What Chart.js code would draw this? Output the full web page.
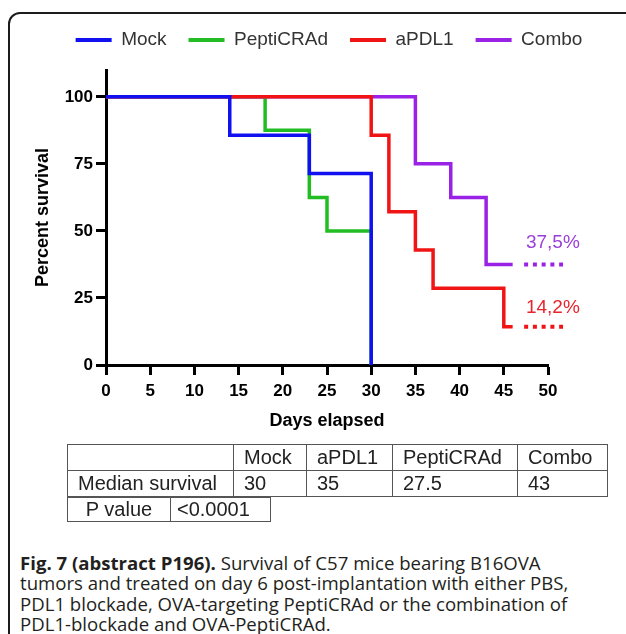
<!DOCTYPE html>
<html lang="en">
<head>
<meta charset="UTF-8">
<title>Survival of C57 mice</title>
<script src="https://cdn.jsdelivr.net/npm/chart.js@4.4.1/dist/chart.umd.min.js"></script>
<style>
  body { margin: 0; background: #fff; }
  #page { position: relative; width: 626px; height: 634px; overflow: hidden; background: #fff; }
  .frame { position: absolute; left: 8px; top: 12px; width: 660px; height: 700px;
           border: 2px solid #1c1c1c; border-radius: 12px; }
  #chartBox { position: absolute; left: 0; top: 0; width: 626px; height: 445px; }
  table.stats { position: absolute; border-collapse: collapse; table-layout: fixed;
                font-family: Arial, "Liberation Sans", sans-serif; font-size: 20px; color: #222; }
  table.stats td { border: 1.5px solid #555; padding: 0 0 0 10px; white-space: nowrap; }
  #median { left: 67px; top: 444px; }
  #median td { height: 25px; }
  #pval { left: 67px; top: 497px; }
  #pval td { height: 23px; }
  #pval td.c { text-align: center; padding: 0; }
  .caption { position: absolute; left: 20px; top: 553px; font-family: "Open Sans", sans-serif;
             font-size: 18.6px; line-height: 20.3px; color: #231f20; white-space: nowrap; }
</style>
</head>
<body>
<div id="page">
  <div class="frame"></div>
  <div id="chartBox"><canvas id="survival" width="626" height="445"></canvas></div>

  <table class="stats" id="median">
    <colgroup><col style="width:166px"><col style="width:73px"><col style="width:86px"><col style="width:125px"><col style="width:90px"></colgroup>
    <tr><td></td><td>Mock</td><td>aPDL1</td><td>PeptiCRAd</td><td>Combo</td></tr>
    <tr><td>Median survival</td><td>30</td><td>35</td><td>27.5</td><td>43</td></tr>
  </table>
  <table class="stats" id="pval">
    <colgroup><col style="width:103px"><col style="width:100px"></colgroup>
    <tr><td class="c">P value</td><td style="padding-left:6px">&lt;0.0001</td></tr>
  </table>

  <div class="caption"><b>Fig. 7 (abstract P196).</b> Survival of C57 mice bearing B16OVA<br>
    tumors and treated on day 6 post-implantation with either PBS,<br>
    PDL1 blockade, OVA-targeting PeptiCRAd or the combination of<br>
    PDL1-blockade and OVA-PeptiCRAd.</div>
</div>

<script>
// Kaplan-Meier steps (day, % surviving after the event)
const mockDays  = [0, 14, 23, 30];
const mockSurv  = [100, 85.7, 71.4, 0];
const peptiDays = [0, 18, 23, 25, 30];
const peptiSurv = [100, 87.5, 62.5, 50, 0];
const apdlDays  = [0, 30, 32, 35, 37, 45, 46];
const apdlSurv  = [100, 85.7, 57.1, 42.9, 28.6, 14.3, 14.3];
const comboDays = [0, 35, 39, 43, 46];
const comboSurv = [100, 75, 62.5, 37.5, 37.5];

// dotted continuation past the last follow-up
const tailDays   = [47.3, 51.7];
const tailCombo  = [37.5, 37.5];
const tailApdl   = [14.3, 14.3];

// end labels
const endLabels  = ['37,5%', '14,2%'];
const endLabelX  = [47.5, 47.5];
const endLabelY  = [45.5, 21.3];

const xTicks = [0, 5, 10, 15, 20, 25, 30, 35, 40, 45, 50];
const yTicks = [0, 25, 50, 75, 100];

const BLUE = '#1010f0', GREEN = '#22bd22', RED = '#f01414', PURPLE = '#9a22e6';
const axisFont = { family: 'Arial, "Liberation Sans", sans-serif', size: 17, weight: 'bold' };

function pts(xs, ys) { return xs.map((x, i) => ({ x: x, y: ys[i] })); }

const endLabelPlugin = {
  id: 'endLabels',
  afterDatasetsDraw(chart) {
    const ctx = chart.ctx, xs = chart.scales.x, ys = chart.scales.y;
    const cols = ['#9a3fd8', '#e8242c'];
    ctx.save();
    ctx.font = '19px Arial, "Liberation Sans", sans-serif';
    ctx.textAlign = 'left';
    ctx.textBaseline = 'middle';
    endLabels.forEach((t, i) => {
      ctx.fillStyle = cols[i];
      ctx.fillText(t, xs.getPixelForValue(endLabelX[i]), ys.getPixelForValue(endLabelY[i]));
    });
    ctx.restore();
  }
};

function curve(label, xs, ys, color, order) {
  return { label: label, data: pts(xs, ys), borderColor: color, backgroundColor: color,
           borderWidth: 3.5, stepped: 'before', pointRadius: 0, order: order };
}
function tail(ys, color) {
  return { label: 'tail', data: pts(tailDays, ys), borderColor: color, borderWidth: 4,
           borderDash: [4, 4.75], pointRadius: 0, clip: false, order: 5 };
}

new Chart(document.getElementById('survival'), {
  type: 'line',
  data: {
    datasets: [
      curve('Mock', mockDays, mockSurv, BLUE, 0),
      curve('PeptiCRAd', peptiDays, peptiSurv, GREEN, 3),
      curve('aPDL1', apdlDays, apdlSurv, RED, 1),
      curve('Combo', comboDays, comboSurv, PURPLE, 2),
      tail(tailCombo, PURPLE),
      tail(tailApdl, RED)
    ]
  },
  options: {
    responsive: false,
    animation: false,
    layout: { padding: { left: 32, right: 0, top: 8.5, bottom: 0 } },
    plugins: {
      tooltip: { enabled: false },
      // empty spacer between legend and plot
      title: { display: true, text: '', weight: 500, fullSize: false,
               padding: 0, font: { size: 8.75 } },
      legend: {
        position: 'top',
        labels: {
          boxWidth: 36,
          boxHeight: 4,
          padding: 22,
          color: '#333',
          font: { family: 'Arial, "Liberation Sans", sans-serif', size: 19 },
          generateLabels(chart) {
            return Chart.defaults.plugins.legend.labels.generateLabels(chart)
              .filter(l => l.datasetIndex < 4)
              .sort((a, b) => a.datasetIndex - b.datasetIndex)
              .map(l => Object.assign(l, { fillStyle: l.strokeStyle, lineWidth: 0 }));
          }
        }
      }
    },
    scales: {
      x: {
        type: 'linear', min: 0, max: 50,
        afterBuildTicks(s) { s.ticks = xTicks.map(v => ({ value: v })); },
        afterFit(s) { s.height = 80; },
        ticks: { color: '#000', font: axisFont, padding: 6, maxRotation: 0 },
        grid: { drawOnChartArea: false, drawTicks: true, tickLength: 10, tickWidth: 3, tickColor: '#000' },
        border: { display: true, color: '#000', width: 3 },
        title: { display: true, text: 'Days elapsed', color: '#000', padding: { top: 0, bottom: 13 },
                 font: { family: 'Arial, "Liberation Sans", sans-serif', size: 18, weight: 'bold' } }
      },
      y: {
        type: 'linear', min: 0, max: 110,
        afterBuildTicks(s) { s.ticks = yTicks.map(v => ({ value: v })); },
        afterFit(s) { s.width = 74; },
        ticks: { color: '#000', font: axisFont, padding: 3 },
        grid: { drawOnChartArea: false, drawTicks: true, tickLength: 10, tickWidth: 3, tickColor: '#000' },
        border: { display: true, color: '#000', width: 3 },
        title: { display: true, text: 'Percent survival', color: '#000', padding: 0,
                 font: { family: 'Arial, "Liberation Sans", sans-serif', size: 18, weight: 'bold' } }
      },
      // empty right-hand margin for the dotted tails and end labels
      ySpace: {
        type: 'linear', position: 'right', display: true,
        afterFit(s) { s.width = 78; },
        ticks: { display: false },
        grid: { display: false },
        border: { display: false }
      }
    }
  },
  plugins: [endLabelPlugin]
});
</script>
</body>
</html>
